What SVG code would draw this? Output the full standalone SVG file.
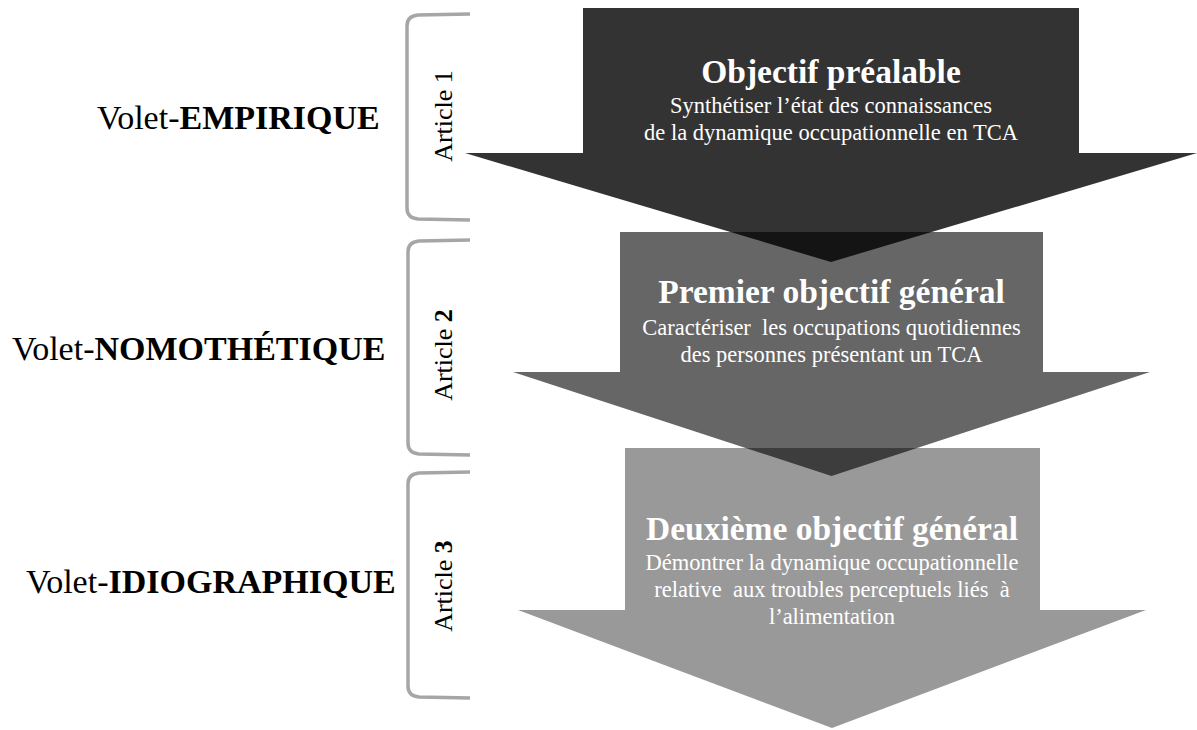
<svg xmlns="http://www.w3.org/2000/svg" width="1197" height="730" viewBox="0 0 1197 730">
<style>
.arrow{fill:#000}
.t{font-family:"Liberation Serif","Times New Roman",serif;fill:#fff;text-anchor:middle}
.title{font-size:33.5px;font-weight:bold}
.sub{font-size:22.5px}
.volet{font-family:"Liberation Serif","Times New Roman",serif;font-size:34px;fill:#000}
.art{font-family:"Liberation Serif","Times New Roman",serif;font-size:26px;fill:#000;text-anchor:middle}
.br{fill:none;stroke:#a6a6a6;stroke-width:3.5;stroke-linecap:butt}
</style>
<rect width="1197" height="730" fill="#fff"/>

<g id="labels">
  <text class="volet" x="97" y="129">Volet-<tspan font-weight="bold">EMPIRIQUE</tspan></text>
  <text class="volet" x="12" y="360">Volet-<tspan font-weight="bold">NOMOTHÉTIQUE</tspan></text>
  <text class="volet" x="26" y="593">Volet-<tspan font-weight="bold">IDIOGRAPHIQUE</tspan></text>
</g>

<g id="brackets">
  <path class="br" d="M470,14 L418,15 Q407,16 407,26 L407,208 Q407,218 418,219 L470,220"/>
  <path class="br" d="M470,240 L419,241 Q408,242 408,252 L408,443 Q408,453 419,454 L470,455"/>
  <path class="br" d="M470,472 L419,473 Q408,474 408,484 L408,686 Q408,696 419,697 L470,698"/>
</g>

<g id="articles">
  <text class="art" transform="translate(452,116) rotate(-90)">Article 1</text>
  <text class="art" transform="translate(452,355) rotate(-90)">Article <tspan font-weight="bold">2</tspan></text>
  <text class="art" transform="translate(452,586) rotate(-90)">Article <tspan font-weight="bold">3</tspan></text>
</g>

<g id="arrow1">
  <polygon class="arrow" fill-opacity="0.8" points="583,8 1079,8 1079,153 1197,153 831,262 465,153 583,153"/>
  <text class="t title" x="831" y="83">Objectif préalable</text>
  <text class="t sub" x="831" y="113">Synthétiser l’état des connaissances</text>
  <text class="t sub" x="831" y="140">de la dynamique occupationnelle en TCA</text>
</g>

<g id="arrow2">
  <polygon class="arrow" fill-opacity="0.6" points="620,232 1043,232 1043,372 1150,372 831.5,476 513,372 620,372"/>
  <text class="t title" x="831.5" y="303">Premier objectif général</text>
  <text class="t sub" x="831.5" y="335">Caractériser&#160; les occupations quotidiennes</text>
  <text class="t sub" x="831.5" y="362">des personnes présentant un TCA</text>
</g>

<g id="arrow3">
  <polygon class="arrow" fill-opacity="0.4" points="625,448 1040,448 1040,610 1146,610 832,728 518,610 625,610"/>
  <text class="t title" x="832" y="540">Deuxième objectif général</text>
  <text class="t sub" x="832" y="570">Démontrer la dynamique occupationnelle</text>
  <text class="t sub" x="832" y="597">relative&#160; aux troubles perceptuels liés&#160; à</text>
  <text class="t sub" x="832" y="624">l’alimentation</text>
</g>
</svg>
